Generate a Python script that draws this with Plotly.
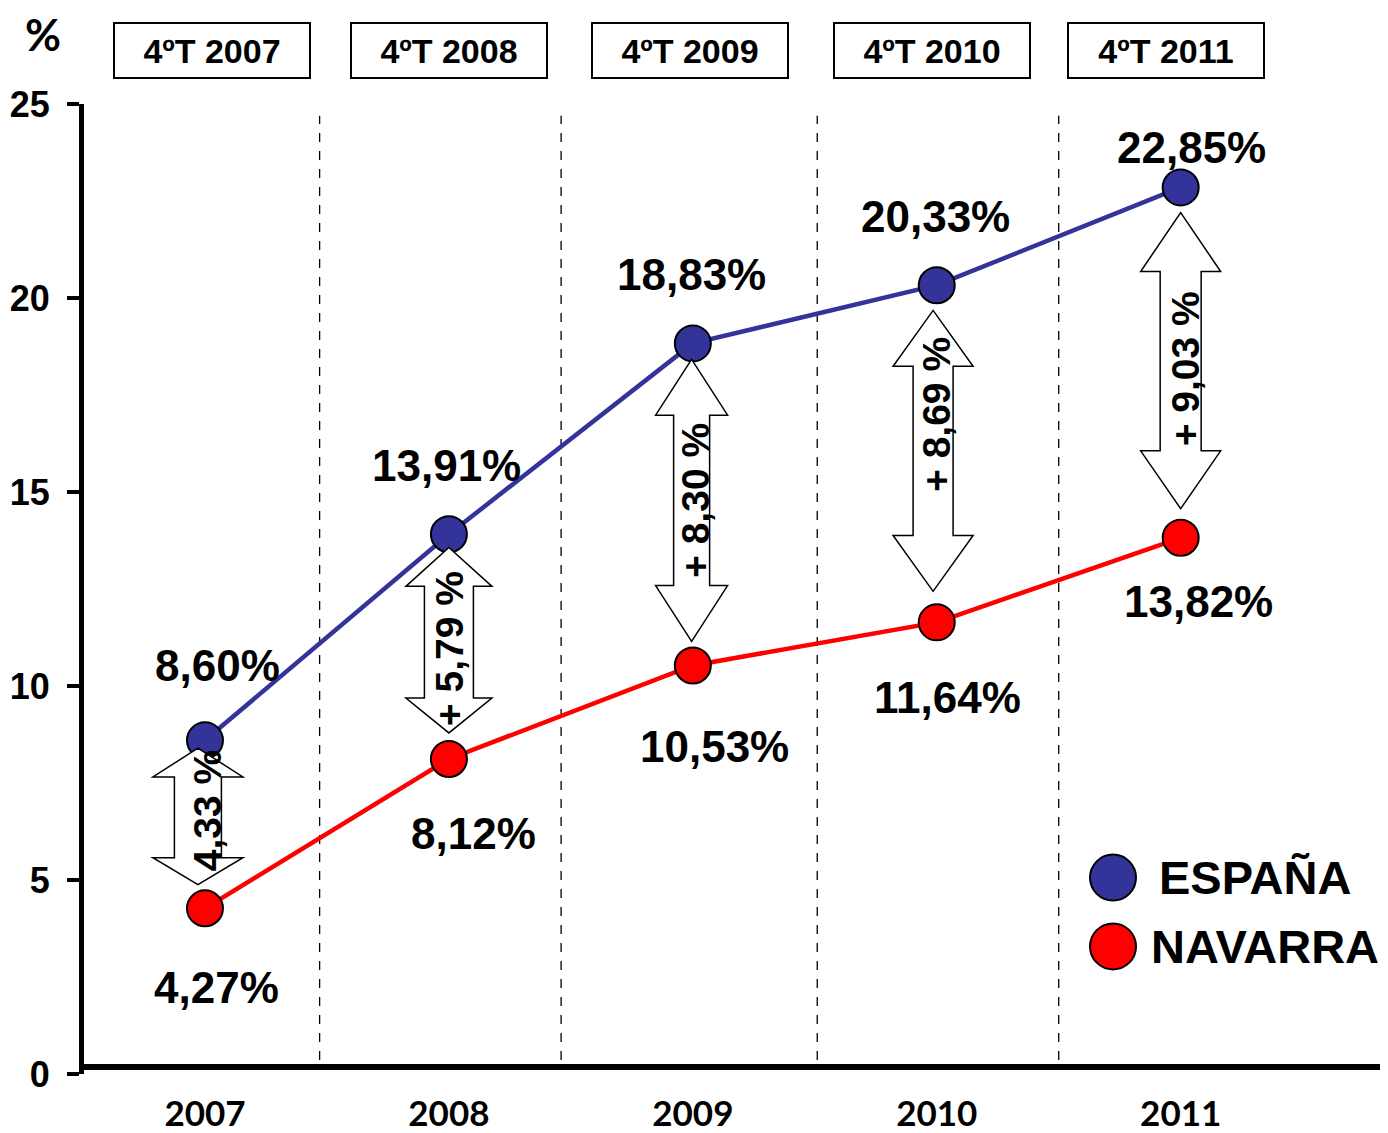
import plotly.graph_objects as go

# ---------------- data ----------------
years = ["2007", "2008", "2009", "2010", "2011"]
quarters = ["4ºT 2007", "4ºT 2008", "4ºT 2009", "4ºT 2010", "4ºT 2011"]
espana = [8.60, 13.91, 18.83, 20.33, 22.85]
navarra = [4.27, 8.12, 10.53, 11.64, 13.82]
gap_labels = ["4,33 %", "+ 5,79 %", "+ 8,30 %", "+ 8,69 %", "+ 9,03 %"]
y_ticks = [0, 5, 10, 15, 20, 25]

# ---------------- styles / layout helpers ----------------
OFF = 8                      # page body margin
W, H = 1380, 1125
ML, MR, MT, MB = 76, 0, 96, 56
PL = OFF + ML                # plot left in page px
PB = OFF + H - MB            # plot bottom in page px
XR = [-0.496, 4.85]
YR = [0, 25]
PW, PH = W - ML - MR, H - MT - MB
PX_X = PW / (XR[1] - XR[0])   # px per x unit
PX_Y = PH / (YR[1] - YR[0])   # px per y unit

BLUE = "#333399"
RED = "#FF0000"
ARIAL = "Liberation Sans"
CAL = "Lato"

xs = list(range(len(years)))


def fmt(v):
    return f"{v:.2f}".replace(".", ",") + "%"


def px(page_x):
    return (page_x - PL) / PW


def py(page_y):
    return (PB - page_y) / PH


fig = go.Figure()

fig.add_trace(go.Scatter(
    x=xs, y=espana, mode="lines+markers", name="ESPAÑA",
    line=dict(color=BLUE, width=4.5),
    marker=dict(size=36, color=BLUE, line=dict(color="black", width=2)),
    showlegend=False, hoverinfo="skip"))
fig.add_trace(go.Scatter(
    x=xs, y=navarra, mode="lines+markers", name="NAVARRA",
    line=dict(color=RED, width=4.5),
    marker=dict(size=36, color=RED, line=dict(color="black", width=2)),
    showlegend=False, hoverinfo="skip"))

shapes = []
annotations = []

# x axis line (slightly above 0)
shapes.append(dict(type="line", xref="paper", yref="y", x0=0, x1=1, y0=0.18, y1=0.18,
                   line=dict(color="black", width=6), layer="above"))

# vertical dashed dividers
dividers = [0.47, 1.46, 2.51, 3.5]
for d in dividers:
    shapes.append(dict(type="line", xref="x", yref="y", x0=d, x1=d, y0=0.36, y1=24.7,
                       line=dict(color="black", width=1.3, dash="dash"), layer="below"))

# top quarter boxes
box_dx = [0.03, 1.0, 1.99, 2.98, 3.94]
for i, q in enumerate(quarters):
    annotations.append(dict(
        x=box_dx[i], y=py(50), xref="x", yref="paper",
        text=f"<b>{q}</b>", showarrow=False, xanchor="center", yanchor="middle",
        font=dict(family=ARIAL, size=34, color="black"),
        bordercolor="black", borderwidth=2, borderpad=0, width=194, height=53,
        bgcolor="white"))

# data labels
esp_off = [(13, 75), (-2, 69), (-1, 69), (-1, 69), (11, 40)]
nav_off = [(12, -79), (25, -75), (22, -81), (11, -75), (18, -64)]
for i in xs:
    annotations.append(dict(x=i, y=espana[i], xref="x", yref="y", text=f"<b>{fmt(espana[i])}</b>",
                            showarrow=False, xshift=esp_off[i][0], yshift=esp_off[i][1],
                            font=dict(family=ARIAL, size=44, color="black")))
    annotations.append(dict(x=i, y=navarra[i], xref="x", yref="y", text=f"<b>{fmt(navarra[i])}</b>",
                            showarrow=False, xshift=nav_off[i][0], yshift=nav_off[i][1],
                            font=dict(family=ARIAL, size=44, color="black")))

# double-headed block arrows
arrow_cx = [-0.029, 1.0, 1.995, 2.985, 4.0]
gap_top = [0.20, 0.34, 0.41, 0.65, 0.65]
gap_bot = [0.61, 0.67, 0.62, 0.80, 0.75]
head_w = [90, 86, 72, 80, 80]
shaft_w = [47, 49, 36, 40, 41]
head_l = [(29, 27), (39, 35), (56, 56), (56, 56), (59, 58)]
text_shift = [(9, 6), (0, -8), (4, 0), (4, 36), (5, -8)]
for i in xs:
    xc = arrow_cx[i]
    yt = espana[i] - gap_top[i]
    yb = navarra[i] + gap_bot[i]
    hw = head_w[i] / 2 / PX_X
    sw = shaft_w[i] / 2 / PX_X
    ht = head_l[i][0] / PX_Y
    hb = head_l[i][1] / PX_Y
    pts = [(xc, yt), (xc + hw, yt - ht), (xc + sw, yt - ht), (xc + sw, yb + hb),
           (xc + hw, yb + hb), (xc, yb), (xc - hw, yb + hb), (xc - sw, yb + hb),
           (xc - sw, yt - ht), (xc - hw, yt - ht)]
    path = "M " + " L ".join(f"{a:.5f},{b:.5f}" for a, b in pts) + " Z"
    shapes.append(dict(type="path", xref="x", yref="y", path=path,
                       fillcolor="white", line=dict(color="black", width=1.5), layer="above"))
    annotations.append(dict(x=xc, y=(yt + yb) / 2, xref="x", yref="y",
                            text=f"<b>{gap_labels[i]}</b>", textangle=-90, showarrow=False,
                            xshift=text_shift[i][0], yshift=text_shift[i][1],
                            font=dict(family=ARIAL, size=39, color="black")))

# legend (custom)
leg = [("ESPAÑA", BLUE, 880, 1157), ("NAVARRA", RED, 949, 1149)]
for name, col, ly, tx in leg:
    shapes.append(dict(type="circle", xref="paper", yref="paper", xsizemode="pixel", ysizemode="pixel",
                       xanchor=px(1113), yanchor=py(ly), x0=-23, x1=23, y0=-23, y1=23,
                       fillcolor=col, line=dict(color="black", width=2), layer="above"))
    annotations.append(dict(x=px(tx), y=py(ly), xref="paper", yref="paper",
                            text=f"<b>{name}</b>", showarrow=False, xanchor="left", yanchor="middle",
                            font=dict(family=ARIAL, size=47, color="black")))

# "%" unit label
annotations.append(dict(x=px(43), y=py(34), xref="paper", yref="paper",
                        text="<b>%</b>", showarrow=False, xanchor="center", yanchor="middle",
                        font=dict(family=CAL, size=44, color="black")))

fig.update_layout(
    width=W, height=H,
    margin=dict(l=ML, r=MR, t=MT, b=MB, pad=0),
    paper_bgcolor="white", plot_bgcolor="white",
    shapes=shapes, annotations=annotations, showlegend=False,
    xaxis=dict(range=XR, tickvals=xs, ticktext=[f"<b>{y}</b>" for y in years],
               showgrid=False, zeroline=False, showline=False, ticks="",
               tickfont=dict(family=CAL, size=35, color="black"), ticklabelstandoff=16,
               fixedrange=True),
    yaxis=dict(range=YR, tickvals=y_ticks, ticktext=[f"<b>{t}</b>" for t in y_ticks],
               showgrid=False, zeroline=False, showline=True, linecolor="black", linewidth=5,
               ticks="outside", ticklen=12, tickwidth=4, tickcolor="black",
               tickfont=dict(family=ARIAL, size=36, color="black"), ticklabelstandoff=10,
               fixedrange=True),
)

fig.write_html("out.html")
